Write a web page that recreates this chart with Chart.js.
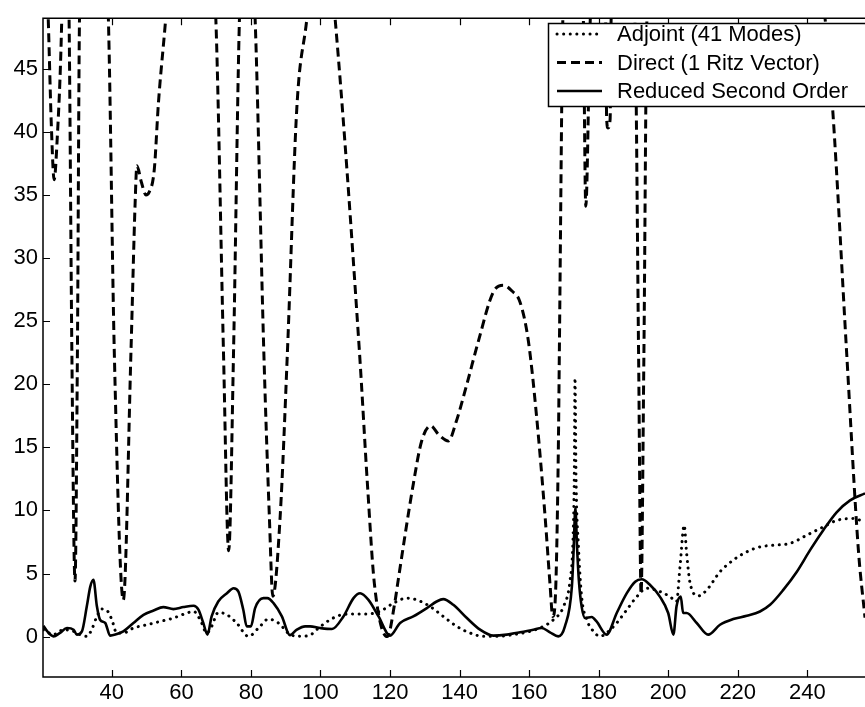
<!DOCTYPE html>
<html>
<head>
<meta charset="utf-8">
<script src="https://cdn.jsdelivr.net/npm/chart.js@4.4.1/dist/chart.umd.min.js"></script>
<style>
  body { margin: 0; background: #fff; }
  #wrap { width: 865px; height: 707px; }
</style>
</head>
<body>
<div id="wrap"><canvas id="chart" width="865" height="707"></canvas></div>
<script>
// x range of the plot and tick labels
var xMin = 20.2, xMax = 256.6;
var yMin = -3.2, yMax = 49;
var xTicks = [40, 60, 80, 100, 120, 140, 160, 180, 200, 220, 240];
var yTicks = [0, 5, 10, 15, 20, 25, 30, 35, 40, 45];

var seriesNames = ['Adjoint (41 Modes)', 'Direct (1 Ritz Vector)', 'Reduced Second Order'];

// [x, y] points
var adjoint = [[20.3,0.55],[23.2,0.16],[26.1,0.55],[29.0,0.42],[30.9,0.16],[32.8,0.02],[34.2,0.55],[35.7,1.6],[37.1,2.18],[38.6,2.07],[40.0,1.34],[41.4,0.29],[43.3,0.29],[46.2,0.68],[50.1,0.94],[53.9,1.2],[57.7,1.47],[61.6,1.87],[63.5,2.0],[65.4,1.34],[67.3,0.29],[68.7,0.81],[70.6,1.91],[73.1,1.73],[75.9,1.08],[79.3,0.02],[82.6,0.81],[85.0,1.39],[87.9,1.08],[91.3,0.16],[94.5,0.02],[97.5,0.2],[98.9,0.55],[102.8,1.34],[106.1,1.73],[109.5,1.79],[113.3,1.79],[117.1,2.0],[121.0,2.65],[124.8,3.05],[127.7,2.91],[131.5,2.39],[135.3,1.6],[139.2,0.81],[143.0,0.29],[146.8,0.02],[150.7,0.02],[155.5,0.16],[160.3,0.42],[164.1,0.81],[167.0,1.34],[169.9,2.39],[171.8,4.49],[172.6,7.5],[173.0,13],[173.2,20.5],[173.5,12.5],[174.2,7.1],[175.1,3.17],[176.6,1.34],[178.5,0.42],[180.4,0.02],[182.3,0.29],[185.2,1.08],[188.1,2.13],[191.0,3.17],[193.8,3.83],[197.6,3.57],[200.5,3.17],[202.4,2.78],[203.4,5.54],[204.6,8.82],[205.3,6.6],[206.3,4.23],[208.7,3.23],[211.1,3.7],[214.9,5.14],[218.7,6.06],[222.6,6.72],[226.4,7.11],[230.2,7.24],[235.0,7.38],[239.8,8.03],[244.6,8.69],[248.5,9.21],[253.2,9.35],[256.6,9.08]];

var direct = [[20.2,60],[21.7,49],[22.6,40.5],[23.4,36.2],[24.2,39],[25.6,49],[26.6,65],[27.7,49],[28.5,22.6],[29.4,4.4],[30.1,22.6],[30.7,49],[34.8,70],[39.0,49],[40.7,22.6],[43.3,2.9],[45.5,22.6],[46.7,34.4],[47.2,37.3],[48.5,36.0],[49.8,35.0],[50.7,35.2],[52.2,37.0],[53.4,42.3],[55.5,49],[62.5,75],[69.9,49],[72.1,22.6],[73.6,6.8],[75.0,22.6],[76.7,49],[79,60],[81.2,49],[83.7,22.6],[85.3,9.5],[86.3,3.2],[88.4,9.5],[90.5,22.6],[93.2,41.9],[96.1,49],[100,60],[104.2,49],[111.2,22.6],[113.5,12.1],[115.5,4.2],[119.2,0.0],[121.5,2.9],[122.2,4.2],[126.7,12.1],[129.1,15.5],[131.7,16.7],[134.0,16.0],[136.8,15.5],[139.0,17.0],[142.1,20.0],[145.4,23.4],[149.7,27.3],[152.6,27.85],[155,27.4],[157.4,26.5],[159.8,23.4],[162.2,17.3],[164.6,9.5],[166.0,4.2],[166.8,1.6],[167.7,4.2],[168.4,14.7],[168.7,22.6],[169.7,49],[172.5,65],[175.6,49],[176.3,34.1],[177.6,49],[180,55],[182.0,49],[182.3,41],[182.7,40.3],[183.3,41],[183.6,49],[187,55],[190.4,49],[191.5,22],[192.2,3.4],[193,22],[193.9,49],[220,90],[245.1,49],[247.3,41.8],[251.3,22.6],[254.7,6.85],[256.6,1.5]];

var reduced = [[20.3,0.87],[21.5,0.4],[23.2,0.02],[25.1,0.3],[27.1,0.68],[29.0,0.55],[29.9,0.16],[31.4,0.42],[32.8,2.4],[33.8,3.96],[34.7,4.5],[35.7,2.4],[36.6,1.34],[38.1,1.08],[39.5,0.08],[41.0,0.16],[43.3,0.42],[46.2,1.08],[49.1,1.73],[52.0,2.07],[54.8,2.34],[57.7,2.18],[60.6,2.34],[63.5,2.44],[64.9,2.13],[66.3,1.08],[67.5,0.16],[68.7,1.6],[70.6,2.78],[73.1,3.44],[75.0,3.83],[76.4,3.57],[77.8,2.13],[78.8,0.81],[80.0,0.81],[81.2,2.26],[83.6,3.05],[84.7,3.05],[86.5,2.65],[88.9,1.6],[91.2,0.12],[93.2,0.55],[95.6,0.81],[97.0,0.81],[99.9,0.68],[103.3,0.6],[106.6,1.6],[109.5,3.05],[111.4,3.44],[113.8,2.91],[116.7,1.6],[120.0,0.08],[122.9,1.08],[126.7,1.6],[130.6,2.26],[133.4,2.78],[135.3,2.97],[138.2,2.52],[142.1,1.47],[145.9,0.55],[149.7,0.08],[153.6,0.16],[157.4,0.34],[161.2,0.55],[163.6,0.68],[166.0,0.34],[168.4,0.02],[170.3,0.81],[172.3,3.96],[172.8,6.8],[173.3,10.2],[173.8,7.0],[174.3,4.5],[175.1,2.4],[176.1,1.47],[178.0,1.55],[179.4,1.2],[182.3,0.16],[185.2,1.87],[188.1,3.44],[190.5,4.35],[192.4,4.54],[194.8,4.09],[197.6,3.17],[200.0,1.87],[201.5,0.16],[202.4,2.4],[203.6,3.17],[204.3,1.87],[205.3,1.87],[208.2,1.08],[211.5,0.16],[214.9,0.94],[218.7,1.39],[222.6,1.65],[226.4,1.99],[229.3,2.52],[233.1,3.7],[237.0,5.14],[240.8,6.85],[244.6,8.43],[248.5,9.87],[252.3,10.8],[256.6,11.35]];

function toPoints(arr) {
    return arr.map(function(p) { return {x: p[0], y: p[1]}; });
}

var FONT = "'Liberation Sans', Arial, sans-serif";

// matlab style box with inward ticks
var framePlugin = {
    id: 'frame',
    afterDraw: function(chart) {
        var ctx = chart.ctx, a = chart.chartArea;
        var xs = chart.scales.x, ys = chart.scales.y;
        ctx.save();
        ctx.strokeStyle = '#000';
        ctx.lineWidth = 1.5;
        ctx.beginPath();
        ctx.moveTo(a.right, a.top); ctx.lineTo(a.left, a.top);
        ctx.lineTo(a.left, a.bottom); ctx.lineTo(a.right, a.bottom);
        ctx.stroke();
        ctx.lineWidth = 1.2;
        ctx.beginPath();
        xTicks.forEach(function(v) {
            var px = Math.round(xs.getPixelForValue(v)) + 0.5;
            ctx.moveTo(px, a.bottom); ctx.lineTo(px, a.bottom - 7);
            ctx.moveTo(px, a.top); ctx.lineTo(px, a.top + 7);
        });
        yTicks.forEach(function(v) {
            var py = Math.round(ys.getPixelForValue(v)) + 0.5;
            ctx.moveTo(a.left, py); ctx.lineTo(a.left + 7, py);
        });
        ctx.stroke();
        ctx.restore();
    }
};

// legend box in the top right corner
var legendPlugin = {
    id: 'boxLegend',
    afterDraw: function(chart) {
        var ctx = chart.ctx;
        var bx = 548, by = 23, bw = 330, bh = 83;
        ctx.save();
        ctx.fillStyle = '#fff';
        ctx.fillRect(bx, by, bw, bh);
        ctx.strokeStyle = '#000';
        ctx.lineWidth = 1.5;
        ctx.strokeRect(bx + 0.5, by + 0.5, bw, bh);
        chart.data.datasets.forEach(function(ds, i) {
            var cy = by + 11 + i * 28.5;
            ctx.beginPath();
            ctx.setLineDash(ds.borderDash || []);
            ctx.lineCap = ds.borderCapStyle || 'butt';
            ctx.lineWidth = ds.borderWidth;
            ctx.moveTo(557, cy); ctx.lineTo(602, cy);
            ctx.stroke();
            ctx.setLineDash([]);
            ctx.fillStyle = '#000';
            ctx.font = '22px ' + FONT;
            ctx.textBaseline = 'middle';
            ctx.textAlign = 'left';
            ctx.fillText(ds.label, 617, cy + 1);
        });
        ctx.restore();
    }
};

var ctx = document.getElementById('chart');

var chart = new Chart(ctx, {
    type: 'line',
    data: {
        datasets: [{
            label: seriesNames[0],
            data: toPoints(adjoint),
            borderColor: '#000',
            borderWidth: 3,
            borderDash: [0.1, 6.5],
            borderCapStyle: 'round',
            cubicInterpolationMode: 'monotone',
            pointRadius: 0,
            clip: 0
        }, {
            label: seriesNames[1],
            data: toPoints(direct),
            borderColor: '#000',
            borderWidth: 3,
            borderDash: [9, 5],
            cubicInterpolationMode: 'monotone',
            pointRadius: 0,
            clip: 0
        }, {
            label: seriesNames[2],
            data: toPoints(reduced),
            borderColor: '#000',
            borderWidth: 2.6,
            cubicInterpolationMode: 'monotone',
            pointRadius: 0,
            clip: 0
        }]
    },
    options: {
        responsive: false,
        animation: false,
        events: [],
        layout: { padding: { top: 14, left: 0, right: 0, bottom: 0 } },
        plugins: {
            legend: { display: false },
            tooltip: { enabled: false }
        },
        scales: {
            x: {
                type: 'linear',
                min: xMin,
                max: xMax,
                grid: { display: false, drawTicks: false },
                border: { display: false },
                afterBuildTicks: function(scale) {
                    scale.ticks = xTicks.map(function(v) { return {value: v}; });
                },
                afterFit: function(scale) { scale.height = 30; },
                ticks: {
                    color: '#000',
                    padding: 3,
                    maxRotation: 0,
                    autoSkip: false,
                    font: { family: FONT, size: 22 }
                }
            },
            y: {
                type: 'linear',
                min: yMin,
                max: yMax,
                grid: { display: false, drawTicks: false },
                border: { display: false },
                afterBuildTicks: function(scale) {
                    scale.ticks = yTicks.map(function(v) { return {value: v}; });
                },
                afterFit: function(scale) { scale.width = 43; },
                ticks: {
                    color: '#000',
                    padding: 5,
                    autoSkip: false,
                    font: { family: FONT, size: 22 }
                }
            }
        }
    },
    plugins: [framePlugin, legendPlugin]
});
</script>
</body>
</html>
